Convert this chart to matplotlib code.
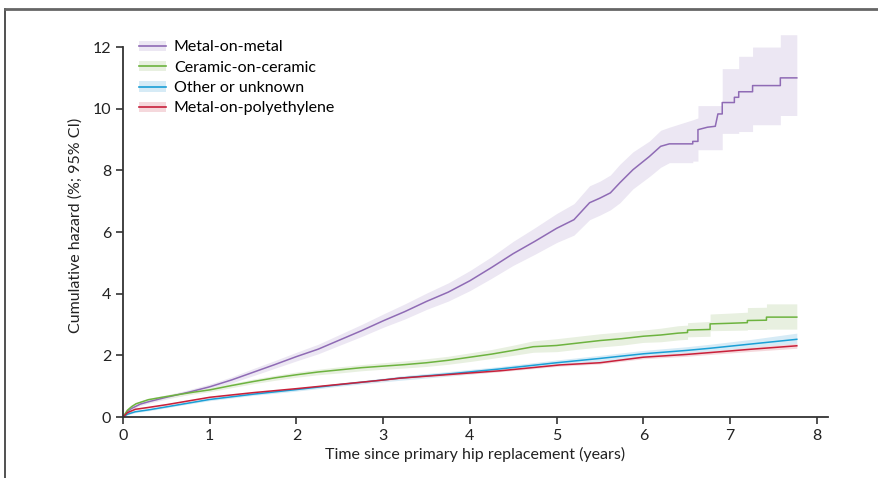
import matplotlib.pyplot as plt
from matplotlib.lines import Line2D
from matplotlib.patches import Patch

# Metal-on-metal (repeated times mark the visible steps late on)
mom_t = [0, 0.05, 0.1, 0.2, 0.3, 0.5, 0.75, 1.0, 1.25, 1.5, 1.75, 2.0, 2.25, 2.5, 2.75,
         3.0, 3.25, 3.5, 3.75, 4.0, 4.25, 4.5, 4.75, 5.0, 5.2, 5.38, 5.5, 5.62, 5.73, 5.88,
         6.07, 6.2, 6.3, 6.57, 6.57, 6.63, 6.63, 6.74, 6.83, 6.86, 6.91, 6.91, 7.05, 7.05,
         7.1, 7.1, 7.26, 7.26, 7.58, 7.58, 7.77]
mom_y = [0, 0.18, 0.28, 0.42, 0.5, 0.64, 0.8, 0.98, 1.2, 1.45, 1.7, 1.96, 2.2, 2.5, 2.8,
         3.12, 3.42, 3.75, 4.05, 4.42, 4.85, 5.3, 5.7, 6.12, 6.4, 6.95, 7.1, 7.27, 7.6, 8.02,
         8.45, 8.78, 8.86, 8.86, 8.94, 8.94, 9.32, 9.4, 9.43, 9.83, 9.83, 10.2, 10.2, 10.37,
         10.37, 10.55, 10.55, 10.75, 10.75, 11.0, 11.0]
mom_lo = [0, 0.15, 0.24, 0.37, 0.45, 0.58, 0.73, 0.89, 1.1, 1.34, 1.58, 1.82, 2.05, 2.33, 2.61,
          2.91, 3.18, 3.49, 3.76, 4.1, 4.5, 4.92, 5.28, 5.66, 5.9, 6.4, 6.55, 6.72, 6.95, 7.4,
          7.8, 8.1, 8.25, 8.25, 8.3, 8.3, 8.67, 8.67, 8.67, 8.67, 8.67, 9.2, 9.2, 9.2,
          9.2, 9.26, 9.26, 9.48, 9.48, 9.78, 9.78]
mom_hi = [0, 0.22, 0.33, 0.48, 0.56, 0.71, 0.88, 1.07, 1.3, 1.57, 1.83, 2.1, 2.36, 2.68, 3.0,
          3.34, 3.67, 4.02, 4.35, 4.75, 5.2, 5.7, 6.14, 6.6, 6.92, 7.5, 7.65, 7.85, 8.2, 8.6,
          8.95, 9.3, 9.4, 9.64, 9.64, 9.7, 10.1, 10.1, 10.1, 10.1, 10.1, 11.3, 11.3, 11.3,
          11.3, 11.7, 11.7, 12.0, 12.0, 12.4, 12.4]

# Ceramic-on-ceramic
coc_t = [0, 0.05, 0.1, 0.15, 0.29, 0.45, 0.6, 0.8, 1.0, 1.25, 1.5, 1.75, 2.0, 2.25, 2.5, 2.75,
         3.0, 3.25, 3.5, 3.75, 4.0, 4.25, 4.5, 4.73, 5.0, 5.25, 5.5, 5.75, 6.0, 6.2, 6.4,
         6.51, 6.51, 6.77, 6.77, 7.0, 7.2, 7.2, 7.42, 7.42, 7.77]
coc_y = [0, 0.22, 0.34, 0.43, 0.56, 0.64, 0.71, 0.8, 0.88, 1.02, 1.15, 1.27, 1.37, 1.46, 1.53, 1.6,
         1.65, 1.7, 1.76, 1.84, 1.94, 2.04, 2.16, 2.28, 2.32, 2.4, 2.48, 2.54, 2.62, 2.66, 2.72,
         2.74, 2.82, 2.84, 3.02, 3.04, 3.06, 3.13, 3.14, 3.24, 3.24]
coc_lo = [0, 0.19, 0.3, 0.39, 0.51, 0.59, 0.65, 0.74, 0.82, 0.95, 1.08, 1.19, 1.29, 1.37, 1.43, 1.5,
          1.55, 1.59, 1.64, 1.71, 1.8, 1.9, 2.0, 2.1, 2.12, 2.2, 2.27, 2.33, 2.42, 2.44, 2.5,
          2.52, 2.6, 2.62, 2.8, 2.81, 2.82, 2.84, 2.84, 2.85, 2.85]
coc_hi = [0, 0.25, 0.38, 0.47, 0.61, 0.69, 0.77, 0.86, 0.95, 1.09, 1.23, 1.35, 1.46, 1.55, 1.63, 1.7,
          1.76, 1.82, 1.89, 1.97, 2.08, 2.19, 2.33, 2.47, 2.54, 2.62, 2.7, 2.76, 2.82, 2.88, 2.96,
          2.98, 3.06, 3.1, 3.34, 3.37, 3.4, 3.55, 3.56, 3.67, 3.67]

# Other or unknown
oth_t = [0, 0.05, 0.14, 0.29, 0.5, 0.75, 1.0, 1.5, 2.0, 2.5, 3.0, 3.19, 3.77, 4.35, 5.0, 5.5, 6.0,
         6.5, 6.77, 7.25, 7.77]
oth_y = [0, 0.09, 0.17, 0.23, 0.33, 0.45, 0.57, 0.74, 0.89, 1.05, 1.2, 1.26, 1.4, 1.56, 1.76, 1.9, 2.05,
         2.16, 2.23, 2.37, 2.52]
oth_lo = [0, 0.07, 0.14, 0.2, 0.3, 0.42, 0.53, 0.7, 0.84, 1.0, 1.14, 1.19, 1.33, 1.48, 1.67, 1.8, 1.94,
          2.04, 2.1, 2.22, 2.34]
oth_hi = [0, 0.11, 0.2, 0.26, 0.36, 0.49, 0.61, 0.78, 0.94, 1.1, 1.26, 1.33, 1.48, 1.64, 1.85, 2.0, 2.16,
          2.28, 2.36, 2.52, 2.72]

# Metal-on-polyethylene
mop_t = [0, 0.05, 0.14, 0.29, 0.5, 0.75, 1.0, 1.5, 2.0, 2.5, 3.0, 3.19, 3.77, 4.35, 5.04, 5.5, 6.0,
         6.5, 6.77, 7.25, 7.77]
mop_y = [0, 0.14, 0.25, 0.31, 0.4, 0.52, 0.64, 0.79, 0.92, 1.06, 1.2, 1.26, 1.38, 1.5, 1.69, 1.76, 1.94,
         2.03, 2.09, 2.2, 2.31]
mop_lo = [0, 0.12, 0.23, 0.29, 0.38, 0.5, 0.62, 0.77, 0.9, 1.03, 1.17, 1.23, 1.35, 1.47, 1.65, 1.72, 1.89,
          1.97, 2.03, 2.13, 2.23]
mop_hi = [0, 0.16, 0.27, 0.33, 0.42, 0.54, 0.66, 0.81, 0.94, 1.09, 1.23, 1.29, 1.41, 1.53, 1.73, 1.8, 1.99,
          2.09, 2.15, 2.27, 2.39]

labels = ["Metal-on-metal", "Ceramic-on-ceramic", "Other or unknown", "Metal-on-polyethylene"]
line_cols = ["#8f6bb5", "#6db33f", "#1a9fd6", "#c8203a"]
band_cols = ["#ece7f3", "#e8f0e0", "#d6ebf6", "#f5d8dc"]

plt.rcParams['font.family'] = ['Lato', 'DejaVu Sans']

fig = plt.figure(figsize=(8.79, 4.78), dpi=100)
# y range runs a bit past 12 so the top of the CI band shows above the last tick
ax = fig.add_axes([0.14, 0.1276, 0.802, 0.803])

series = [
    (mom_t, mom_y, mom_lo, mom_hi),
    (coc_t, coc_y, coc_lo, coc_hi),
    (oth_t, oth_y, oth_lo, oth_hi),
    (mop_t, mop_y, mop_lo, mop_hi),
]
# bands first, then lines on top
for (t, y, lo, hi), bc in zip(series, band_cols):
    ax.fill_between(t, lo, hi, color=bc, lw=0)
for (t, y, lo, hi), lc in zip(series, line_cols):
    ax.plot(t, y, color=lc, lw=1.1)

ax.set_xlim(0, 8.13)
ax.set_ylim(0, 12.45)
ax.set_xticks(range(0, 9))
ax.set_yticks(range(0, 13, 2))
ax.spines['top'].set_visible(False)
ax.spines['right'].set_visible(False)
ax.spines['left'].set_bounds(0, 12)
for s in ['left', 'bottom']:
    ax.spines[s].set_color('#333333')
    ax.spines[s].set_linewidth(1.3)
ax.tick_params(direction='out', length=5, width=1.2, color='#333333',
               labelsize=11.5, labelcolor='#222222')
ax.set_xlabel("Time since primary hip replacement (years)", fontsize=11.5, color='#222222', labelpad=3)
ax.set_ylabel("Cumulative hazard (%; 95% CI)", fontsize=11.5, color='#222222', labelpad=7)

handles = [(Patch(color=bc, lw=0), Line2D([], [], color=lc, lw=1.2))
           for lc, bc in zip(line_cols, band_cols)]
ax.legend(handles, labels, loc='upper left', bbox_to_anchor=(0.013, 0.998), frameon=False,
          fontsize=11.5, handlelength=1.7, handleheight=0.6, handletextpad=0.5, labelspacing=0.4,
          borderaxespad=0)

# thin frame round the panel (left and top only)
fig.add_artist(Line2D([0.006, 0.006], [0, 0.981], color='#333333', lw=1.2, transform=fig.transFigure))
fig.add_artist(Line2D([0.006, 1.0], [0.981, 0.981], color='#666666', lw=2, transform=fig.transFigure))

fig.savefig("out.png", dpi=100)
